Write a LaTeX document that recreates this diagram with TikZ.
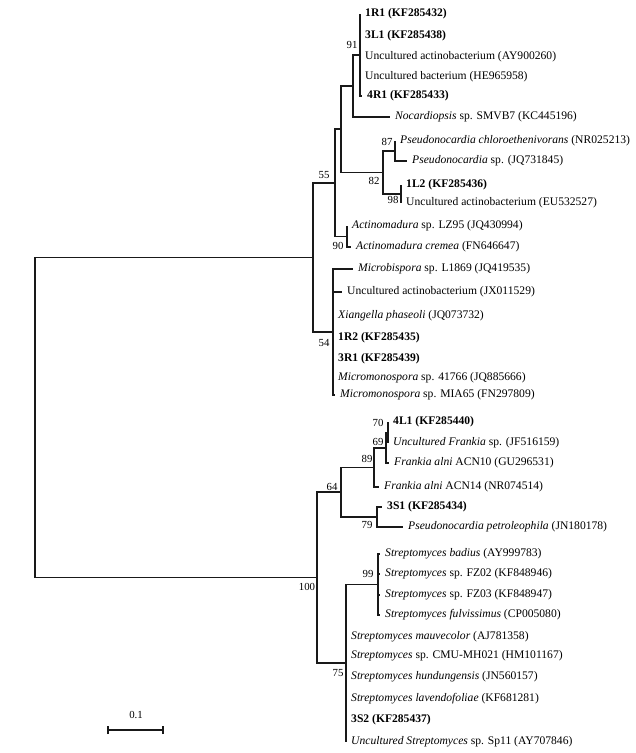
\documentclass[tikz,border=0pt]{standalone}
\usepackage{fontspec}
\setmainfont{Liberation Serif}

\begin{document}
\begin{tikzpicture}[x=1pt, y=-1pt,
          lf/.style={anchor=west, inner xsep=5pt, inner ysep=0pt, font=\fontsize{11.6}{13}\selectfont},
          bs/.style={inner sep=0pt, font=\fontsize{10.8}{12}\selectfont},
          br/.style={draw=black!90, line width=1.1pt}]
        \useasboundingbox (0,0) rectangle (636,753);
        % internal nodes (x = depth, y = middle of children)
        \coordinate (T) at (360,55); \coordinate (B) at (353,86); \coordinate (D) at (395,151); \coordinate (E) at (401,194);
        \coordinate (C) at (383,172.5); \coordinate (A) at (341,129); \coordinate (G) at (347,236.5); \coordinate (H) at (335,183);
        \coordinate (I) at (333,332); \coordinate (F) at (313,257.5);
        \coordinate (P) at (388,432.5); \coordinate (O) at (386,448); \coordinate (N) at (374,467.5); \coordinate (Q) at (377,517);
        \coordinate (M) at (341,492); \coordinate (S) at (378,584.5); \coordinate (R) at (346,663); \coordinate (L) at (317,577.5);
        \coordinate (rt) at (35,417.5);
        % upper clade
        \foreach \i/\y/\t in {1/14/{\textbf{1R1 (KF285432)}}, 2/36/{\textbf{3L1 (KF285438)}}, 3/57/{Uncultured actinobacterium (AY900260)},
            4/77/{Uncultured bacterium (HE965958)}}{ \node[lf] (l\i) at (360,\y) {\t}; \draw[br] (T) |- (l\i.west); }
        \node[lf] (l5) at (362,96) {\textbf{4R1 (KF285433)}};
        \draw[br] (T) |- (l5.west);
        \node[lf] (l6) at (390,117) {\textit{Nocardiopsis} sp. SMVB7 (KC445196)};
        \draw[br] (B) |- (T); \draw[br] (B) |- (l6.west);
        \node[lf] (l7) at (395,141) {\textit{Pseudonocardia chloroethenivorans} (NR025213)};
        \node[lf] (l8) at (407,161) {\textit{Pseudonocardia} sp. (JQ731845)};
        \draw[br] (D) |- (l7.west); \draw[br] (D) |- (l8.west);
        \node[lf] (l9) at (401,185) {\textbf{1L2 (KF285436)}};
        \node[lf] (l10) at (401,203) {Uncultured actinobacterium (EU532527)};
        \draw[br] (E) |- (l9.west); \draw[br] (E) |- (l10.west);
        \draw[br] (C) |- (D); \draw[br] (C) |- (E); \draw[br] (A) |- (B); \draw[br] (A) |- (C);
        \node[lf] (l11) at (347,226) {\textit{Actinomadura} sp. LZ95 (JQ430994)};
        \node[lf] (l12) at (351,247) {\textit{Actinomadura cremea} (FN646647)};
        \draw[br] (G) |- (l11.west); \draw[br] (G) |- (l12.west);
        \draw[br] (H) |- (A); \draw[br] (H) |- (G);
        \node[lf] (l13) at (353,269) {\textit{Microbispora} sp. L1869 (JQ419535)};
        \node[lf] (l14) at (342,292) {Uncultured actinobacterium (JX011529)};
        \foreach \i/\y/\t in {15/316/{\textit{Xiangella phaseoli} (JQ073732)}, 16/338/{\textbf{1R2 (KF285435)}}, 17/359/{\textbf{3R1 (KF285439)}},
            18/378/{\textit{Micromonospora} sp. 41766 (JQ885666)}}{ \node[lf] (l\i) at (333,\y) {\t}; \draw[br] (I) |- (l\i.west); }
        \node[lf] (l19) at (335,395) {\textit{Micromonospora} sp. MIA65 (FN297809)};
        \draw[br] (I) |- (l13.west); \draw[br] (I) |- (l14.west); \draw[br] (I) |- (l19.west);
        \draw[br] (F) |- (H); \draw[br] (F) |- (I);
        % lower clade
        \node[lf] (l20) at (388,422) {\textbf{4L1 (KF285440)}};
        \node[lf] (l21) at (388,443) {\textit{Uncultured Frankia} sp. (JF516159)};
        \draw[br] (P) |- (l20.west); \draw[br] (P) |- (l21.west);
        \node[lf] (l22) at (389,463) {\textit{Frankia alni} ACN10 (GU296531)};
        \draw[br] (O) |- (P); \draw[br] (O) |- (l22.west);
        \node[lf] (l23) at (379,487) {\textit{Frankia alni} ACN14 (NR074514)};
        \draw[br] (N) |- (O); \draw[br] (N) |- (l23.west);
        \node[lf] (l24) at (382,507) {\textbf{3S1 (KF285434)}};
        \node[lf] (l25) at (403,527) {\textit{Pseudonocardia petroleophila} (JN180178)};
        \draw[br] (Q) |- (l24.west); \draw[br] (Q) |- (l25.west);
        \draw[br] (M) |- (N); \draw[br] (M) |- (Q);
        \foreach \i/\y/\t in {26/554/{\textit{Streptomyces badius} (AY999783)}, 27/574/{\textit{Streptomyces} sp. FZ02 (KF848946)},
            28/595/{\textit{Streptomyces} sp. FZ03 (KF848947)}, 29/615/{\textit{Streptomyces fulvissimus} (CP005080)}}{ \node[lf] (l\i) at (380,\y) {\t}; \draw[br] (S) |- (l\i.west); }
        \foreach \i/\y/\t in {30/637/{\textit{Streptomyces mauvecolor} (AJ781358)}, 31/656/{\textit{Streptomyces} sp. CMU-MH021 (HM101167)},
            32/677/{\textit{Streptomyces hundungensis} (JN560157)}, 33/699/{\textit{Streptomyces lavendofoliae} (KF681281)},
            34/720/{\textbf{3S2 (KF285437)}}, 35/742/{\textit{Uncultured Streptomyces} sp. Sp11 (AY707846)}}{ \node[lf] (l\i) at (346,\y) {\t}; \draw[br] (R) |- (l\i.west); }
        \draw[br] (R) |- (S); \draw[br] (L) |- (M); \draw[br] (L) |- (R);
        \draw[br] (rt) |- (F); \draw[br] (rt) |- (L);
        % bootstrap values
        \foreach \v/\x/\y in {91/352/45, 87/387/142, 82/374/181, 98/393/200, 55/324/175, 90/338/246, 54/324/343,
            70/378/423, 69/378/442, 89/367/459, 64/332/487, 79/367/525, 99/368/574, 100/307/587, 75/338/673}{ \node[bs] (b\v) at (\x,\y) {\v}; }
        % scale bar
        \coordinate (s0) at (108,730); \coordinate (s1) at (163,730);
        \draw[br, line width=1.4pt] (s0) -- (s1);
        \draw[br] ([yshift=-4pt]s0) -- ([yshift=4pt]s0); \draw[br] ([yshift=-4pt]s1) -- ([yshift=4pt]s1);
        \node[bs] (sl) at (136,715) {0.1};
      \end{tikzpicture}
\end{document}
